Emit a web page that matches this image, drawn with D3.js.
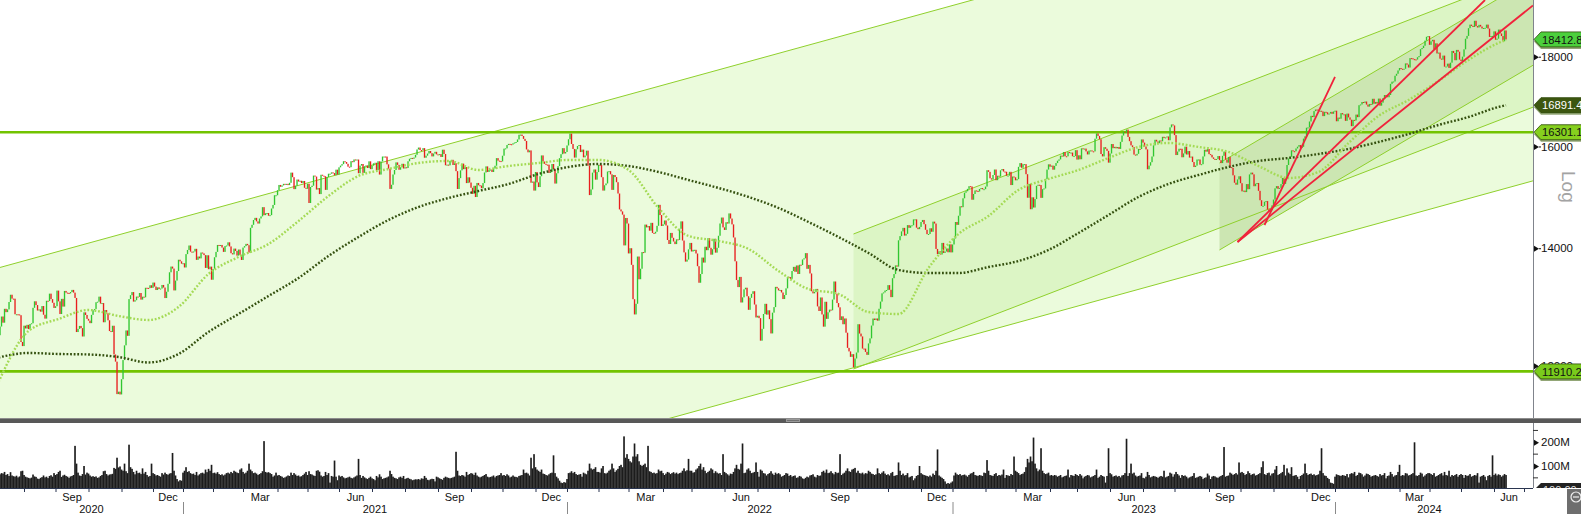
<!DOCTYPE html>
<html>
<head>
<meta charset="utf-8">
<script src="https://cdn.jsdelivr.net/npm/d3@7/dist/d3.min.js"></script>
<style>
html,body{margin:0;padding:0;background:#fff;}
svg{display:block;font-family:"Liberation Sans",Arial,Helvetica,sans-serif;}
</style>
</head>
<body>
<svg id="chart" width="1581" height="514"></svg>
<script>
// ================= DATA =================
const years = [2020, 2021, 2022, 2023, 2024];
const firstMonth = [6, 0, 0, 0, 0];
const monthNames = ["Jan","Feb","Mar","Apr","May","Jun","Jul","Aug","Sep","Oct","Nov","Dec"];
const labelledMonths = ["Mar","Jun","Sep","Dec"];
const lastMonthTradingDays = 20;
const firstOpen = 12495;

// daily closes, one array per month
const closes2020 = [
 [12490,12633,12800,12697,12930,12874,12920,13046,13171,13104,13103,12838,12838,12835,12822,12379,12313],
 [12647,12601,12661,12591,12675,12687,12947,13058,12994,12901,12920,12882,12977,12830,12765,13067,13062,13190,13096,13033,12945],
 [12974,13243,13057,12842,13100,12968,13237,13208,13202,13194,13218,13255,13208,13116,12542,12594,12643,12606,12469,12870,12826,12761],
 [12731,12689,12828,12906,12928,13042,13051,13138,13019,13028,12704,12909,12854,12737,12558,12543,12646,12178,12064,11561,11598,11556],
 [11789,12089,12325,12568,12480,13096,13163,13217,13053,13077,13139,13134,13201,13087,13137,13127,13292,13290,13286,13336,13291],
 [13383,13313,13253,13299,13271,13278,13341,13296,13114,13223,13362,13565,13667,13631,13246,13418,13587,13790,13761,13719]
];
const closes2021 = [
 [13727,13651,13892,13968,14050,13937,13925,13940,13989,13788,13848,13815,13921,13906,13874,13643,13871,13620,13666,13433],
 [13622,13835,13933,14060,14057,14060,14012,13933,14040,14050,14109,14033,13909,13887,13993,13950,13865,13976,13879,13786],
 [14012,14039,14080,14056,13921,14380,14437,14528,14569,14502,14461,14557,14597,14775,14621,14657,14662,14610,14621,14749,14818,15008,15008],
 [15107,15212,15176,15203,15234,15215,15234,15209,15255,15460,15368,15129,15196,15320,15280,15296,15249,15292,15155,15136],
 [15236,14856,15171,15197,15400,15380,15120,15150,15031,15417,15397,15386,15114,15370,15438,15438,15465,15451,15407,15520,15421],
 [15568,15603,15633,15693,15677,15640,15581,15571,15693,15674,15729,15710,15728,15448,15603,15636,15456,15589,15607,15554,15691,15531],
 [15603,15650,15661,15511,15692,15421,15688,15790,15790,15789,15629,15540,15133,15216,15422,15514,15669,15618,15519,15570,15640,15544],
 [15569,15555,15692,15744,15761,15745,15770,15826,15937,15977,15925,15921,15965,15765,15808,15852,15905,15860,15793,15852,15888,15835],
 [15824,15840,15781,15932,15843,15610,15623,15609,15701,15722,15616,15652,15490,15132,15349,15506,15644,15531,15573,15249,15365,15260],
 [15156,15036,15195,14973,15252,15206,15199,15147,15250,15463,15587,15474,15516,15522,15473,15543,15600,15757,15705,15696,15689],
 [15807,15954,15960,16030,16054,16047,16040,16067,16083,16094,16148,16248,16251,16221,16160,16116,15937,15878,15917,15257,15280,15100],
 [15473,15263,15170,15387,15813,15687,15639,15623,15622,15453,15476,15636,15532,15240,15447,15593,15756,15838,15964,15853,15885]
];
const closes2022 = [
 [16021,16152,16271,16052,15948,15768,15942,16010,16031,15883,15934,15773,15810,15912,15603,15011,15123,15460,15524,15318,15471],
 [15619,15613,15368,15100,15206,15242,15482,15490,15425,15114,15412,15370,15267,15042,14731,14693,14631,14052,14567,14461],
 [13905,14000,13698,13094,12835,13016,13848,13442,13628,13929,13918,14441,14388,14413,14326,14474,14284,14273,14306,14418,14820,14623,14415],
 [14446,14519,14424,14152,14078,14284,14193,14124,14076,14164,14153,14362,14502,14142,13924,13756,13793,13979,14098],
 [13940,13970,13971,13903,13674,13380,13534,13829,13739,14027,13964,14186,14008,13882,13982,14175,13919,14008,14231,14462,14575,14388],
 [14340,14485,14461,14654,14556,14445,14199,13762,13427,13304,13483,13038,13126,13265,13293,13145,12913,13118,13186,13232,13003,12784],
 [12813,12773,12401,12595,12843,13015,12832,12905,12756,12519,12865,12959,13308,13282,13246,13254,13210,13097,13166,13282,13484],
 [13479,13449,13587,13662,13574,13687,13535,13700,13694,13795,13816,13910,13627,13697,13544,13231,13195,13220,13272,12971,12893,13124,12835],
 [12631,13050,12761,12871,12916,12905,13088,13402,13189,13028,12956,12741,12803,12671,12767,12531,12284,12227,12140,12183,11976,12114],
 [12209,12671,12517,12470,12273,12272,12219,12172,12356,12438,12649,12766,12741,12767,12731,12931,13053,13195,13211,13243,13253],
 [13338,13257,13130,13460,13533,13688,13666,14146,14224,14313,14379,14234,14267,14431,14380,14422,14428,14540,14541,14383,14355,14397],
 [14490,14529,14448,14343,14261,14264,14371,14306,14497,14461,13987,13893,13942,13885,14098,13914,13940,13995,13926,14071,13924]
];
const closes2023 = [
 [14069,14181,14490,14436,14610,14792,14775,14948,15058,15087,15134,15187,15181,14920,15033,15103,15093,15082,15132,15150,15126,15128],
 [15180,15509,15476,15345,15320,15412,15523,15307,15397,15380,15507,15533,15482,15478,15397,15400,15476,15210,15381,15365],
 [15305,15328,15578,15654,15559,15632,15633,15428,14959,15233,14735,14967,14768,14933,15195,15216,15210,14957,15128,15142,15329,15522,15629],
 [15581,15603,15520,15598,15655,15703,15730,15808,15790,15883,15796,15795,15882,15863,15872,15796,15800,15922],
 [15727,15815,15734,15961,15952,15955,15897,15834,15914,15917,15898,15897,16164,16275,16223,16152,15842,15793,15984,15952,15908,15664],
 [15853,16051,15964,15992,15961,15989,15949,16097,16231,16311,16290,16358,16201,16111,16023,15988,15830,15813,15846,15949,15946,16148],
 [16081,15999,15938,15528,15603,15673,15791,16023,16141,16105,16068,16126,16109,16204,16177,16191,16211,16131,16406,16469,16447],
 [16240,15821,15893,15952,15951,15775,15854,15996,15832,15904,15768,15789,15676,15574,15603,15728,15729,15622,15632,15792,15931,15892,15947],
 [15840,15825,15772,15741,15719,15740,15800,15715,15655,15805,15893,15727,15664,15782,15572,15557,15405,15256,15217,15323,15386],
 [15247,15085,15099,15070,15229,15128,15424,15460,15425,15187,15237,15251,15095,14910,14798,14800,14880,14893,14731,14687,14717,14810],
 [14923,15144,15189,15136,15153,15229,15353,15234,15345,15615,15749,15786,15919,15901,15900,15958,15995,16029,15967,15993,16166,16215],
 [16398,16405,16533,16656,16629,16759,16794,16791,16766,16767,16751,16650,16744,16733,16688,16706,16742,16701,16752]
];
const closes2024 = [
 [16769,16538,16617,16594,16716,16688,16689,16547,16705,16622,16572,16432,16568,16555,16683,16628,16890,16907,16961,16942,16972,16904],
 [16859,16918,16904,17033,16922,16963,16927,17037,16880,16946,17047,17117,17092,17068,17118,17370,17419,17424,17556,17601,17678],
 [17735,17716,17698,17717,17842,17815,17746,17966,17961,17942,17936,17933,17987,18015,18179,18206,18261,18384,18477,18492],
 [18283,18367,18403,18175,18318,18077,18097,17954,17930,18026,17766,17770,17837,17737,17860,18137,18088,17917,18161,18118,17932],
 [17897,18001,18175,18430,18498,18686,18773,18742,18716,18869,18738,18704,18768,18726,18680,18691,18694,18774,18677,18473,18496,18498],
 [18608,18405,18431,18652,18557,18494,18369,18630,18412.8]
];

// daily volume in millions, one array per month
const vols2020 = [
 [72,65,70,68,75,62,66,58,74,60,57,55,59,52,56,78,80],
 [62,55,52,50,48,51,64,56,54,47,45,50,53,60,52,55,49,58,61,55,70],
 [62,66,75,80,54,60,63,58,55,50,56,58,62,185,110,72,60,58,66,100,64,72],
 [68,60,55,57,54,56,50,52,58,62,78,80,66,60,64,65,67,92,88,135,94,98],
 [85,80,110,78,70,190,95,88,75,65,80,70,72,66,90,68,75,62,55,58,110],
 [70,66,60,62,58,55,70,64,72,66,63,68,70,155,80,60,45,35,40,38]
];
const vols2021 = [
 [72,80,95,75,78,70,66,68,62,75,60,65,70,72,68,85,74,88,80,105],
 [70,72,68,74,66,62,65,60,64,70,72,68,75,70,80,76,72,70,85,90],
 [75,68,72,80,110,85,78,70,72,68,62,66,70,78,205,75,72,74,70,66,55,60,72],
 [60,62,58,55,50,52,56,60,58,72,62,70,64,58,60,55,57,62,68,75],
 [62,78,66,64,60,58,80,82,76,60,55,58,75,62,70,30,58,55,123,55,40],
 [60,55,58,52,48,50,52,55,50,48,52,56,60,130,62,50,58,52,48,45,50,55],
 [48,45,40,58,52,65,55,45,48,50,52,56,80,66,55,50,48,45,52,55,50,58],
 [45,48,50,46,44,40,42,44,43,45,42,48,46,58,50,42,40,44,46,45,35,55],
 [52,48,45,42,50,55,52,50,48,50,52,55,160,80,60,58,62,60,55,75,62,66],
 [70,68,62,72,60,55,52,55,58,62,66,55,52,54,56,60,52,58,60,62,70],
 [60,62,58,65,60,52,55,60,55,54,52,58,60,62,85,70,72,68,60,135,90,150],
 [95,85,80,75,85,68,66,62,60,65,70,72,145,70,55,48,38,30,28,32,30]
];
const vols2022 = [
 [45,70,72,78,70,75,66,62,64,66,55,72,68,65,80,110,90,85,88,95,75],
 [75,72,90,100,70,68,72,80,85,110,90,75,82,88,100,105,95,225,135,150],
 [130,120,115,140,195,140,150,120,105,100,105,110,95,185,78,75,70,72,68,70,85,78,80],
 [70,62,68,75,72,66,70,74,68,72,66,70,72,80,90,78,82,130,80],
 [80,72,74,85,90,100,110,85,95,80,70,75,80,90,85,70,78,72,68,70,62,150],
 [75,70,65,60,68,66,75,90,105,88,85,110,195,70,72,85,90,80,70,72,75,115],
 [75,55,85,80,70,68,60,66,70,78,68,62,72,66,70,65,55,58,62,70,68],
 [58,62,55,58,60,50,52,58,55,48,45,50,55,52,60,62,65,55,52,62,58,60,75],
 [80,72,85,70,72,78,70,65,75,70,72,150,62,68,72,80,90,78,75,85,88,92],
 [72,80,70,68,72,65,70,68,80,75,68,66,62,65,90,70,66,72,78,68,62],
 [65,60,70,75,58,60,62,115,80,62,68,60,62,70,52,55,58,40,48,58,62,100],
 [70,65,62,60,58,55,60,55,68,62,80,170,60,55,50,45,35,25,28,25,30]
];
const vols2023 = [
 [35,60,72,65,62,66,60,62,64,60,55,62,68,70,75,62,60,58,62,60,58,72],
 [70,125,80,62,60,58,66,70,58,62,60,64,85,50,62,60,58,66,62,140],
 [80,75,70,62,66,68,75,95,130,115,140,120,220,110,90,78,85,175,80,70,66,68,72],
 [60,62,58,62,60,55,58,62,52,55,58,60,85,52,62,60,58,66],
 [62,58,66,60,48,55,58,62,60,52,55,58,62,85,50,55,62,58,55,30,58,175],
 [70,65,55,58,60,55,58,52,60,62,70,215,58,70,110,68,72,60,55,58,60,70],
 [50,48,55,75,62,52,55,58,56,54,50,55,58,55,80,52,55,58,72,68,55],
 [65,75,66,60,50,62,58,60,55,48,52,55,58,70,50,52,55,58,55,45,50,52,68],
 [60,45,55,58,56,52,50,55,58,62,180,55,58,60,72,68,62,66,70,64,115],
 [72,75,70,62,66,78,70,62,66,68,60,62,66,70,95,120,66,62,70,72,60,68],
 [70,85,100,62,66,70,75,105,60,90,72,66,95,58,60,62,55,45,58,62,68,110],
 [70,62,66,68,62,65,60,62,65,80,175,70,60,58,50,45,30,28,25]
];
const vols2024 = [
 [55,65,62,60,58,62,60,58,66,52,66,70,68,75,58,62,72,70,65,55,60,68],
 [66,62,55,58,60,62,58,55,66,60,62,70,48,58,60,75,66,55,60,62,75],
 [105,58,62,60,70,68,60,62,66,70,200,60,58,62,72,68,55,60,66,70],
 [70,66,62,70,55,58,62,66,70,60,75,62,60,80,55,62,58,62,66,55,62],
 [66,62,50,62,58,60,66,55,58,62,60,70,30,55,58,62,55,40,58,62,55,145],
 [62,68,60,65,62,55,60,66,62]
];

// moving averages (trading-day index -> level)
const maIndex = [0,20,40,60,80,100,120,140,160,180,200,220,240,260,280,300,320,340,360,380,400,420,440,460,480,500,520,540,560,580,600,620,640,660,680,700,720,740,760,780,800,820,840,860,880,900,920,940,960,980,1000,1005];
const ma50 = [11746,12559,12758,12910,12809,12742,12961,13535,13840,14078,14509,14993,15392,15534,15657,15698,15514,15595,15657,15719,15719,15514,14759,14227,14134,13986,13588,13271,13184,12876,12842,13642,14264,14605,15112,15332,15514,15760,15989,16073,15989,15885,15595,15352,15473,16073,16653,17006,17436,17923,18327,18400];
const ma200 = [12130,12202,12186,12178,12138,12051,12186,12543,12842,13149,13464,13858,14208,14529,14778,14954,15092,15231,15432,15575,15636,15595,15473,15311,15152,14974,14759,14490,14208,13913,13606,13552,13552,13659,13767,13968,14283,14624,14974,15231,15412,15575,15698,15760,15843,15947,16094,16264,16458,16631,16851,16891];

// axis ticks
const priceTicks = [12000, 14000, 16000, 18000];
const volTicks = [100, 200];
const volMinorTicks = [50, 150, 250];

// horizontal levels and right-hand value tags
const levels = [16301.17, 11910.27];
const tagValues = [11910.27, 16301.17, 16891.40, 18412.80];

// trend channels / trend lines: [[tradingDayIndex, price], [tradingDayIndex, price]]
const outerUpper = [[1, 13651], [1023, 23737]];
const outerLower = [[1, 8795], [1023, 15294]];
const midUpper   = [[570, 14264], [1023, 20111]];
const midLower   = [[570, 11948], [1023, 16847]];
const innerUpper = [[814, 15657], [1023, 19951]];
const innerLower = [[814, 13968], [1023, 17799]];
const redLines = [
  [[844, 14433], [891, 17528]],
  [[826, 14115], [991, 19390]],
  [[826, 14115], [1023, 19254]]
];

// ================= BUILD =================
const closeYears = [closes2020, closes2021, closes2022, closes2023, closes2024];
const volYears = [vols2020, vols2021, vols2022, vols2023, vols2024];
const bars = [], monthStarts = [], yearStarts = [];
let idx = 0, prevClose = firstOpen;
closeYears.forEach((yr, yi) => {
  yearStarts.push({year: years[yi], i: idx});
  yr.forEach((mon, mi) => {
    monthStarts.push({year: years[yi], month: firstMonth[yi] + mi, i: idx, n: mon.length});
    mon.forEach((c, k) => {
      const v = (volYears[yi][mi] && volYears[yi][mi][k] != null) ? volYears[yi][mi][k] : 0;
      bars.push({i: idx, open: prevClose, close: c, vol: v});
      prevClose = c; idx++;
    });
  });
});
const lastMonth = monthStarts[monthStarts.length - 1];
const axisEndIndex = lastMonth.i + lastMonthTradingDays;

// ================= LAYOUT =================
const W = 1581, H = 514;
const AX = 1533;            // right axis x
const PB = 418;             // price panel bottom
const VB = 488;             // volume baseline / x axis
const svg = d3.select("#chart");

const x = d3.scaleLinear()
  .domain([yearStarts[1].i, yearStarts[4].i])
  .range([183, 1335]);
const y = d3.scaleLog().domain([12000, 18000]).range([365.7, 56.7]);
const vy = d3.scaleLinear().domain([0, 200]).range([489.7, 442.3]);

svg.append("rect").attr("width", W).attr("height", H).attr("fill", "#fff");

const defs = svg.append("defs");
defs.append("clipPath").attr("id", "pclip").append("rect")
  .attr("x", 0).attr("y", 0).attr("width", AX).attr("height", PB);
defs.append("clipPath").attr("id", "vclip").append("rect")
  .attr("x", 0).attr("y", 424).attr("width", AX).attr("height", VB - 424);
defs.append("clipPath").attr("id", "tclip").append("rect")
  .attr("x", AX).attr("y", 0).attr("width", W - AX).attr("height", PB);
defs.append("clipPath").attr("id", "vtclip").append("rect")
  .attr("x", AX).attr("y", 478).attr("width", W - AX).attr("height", 10);

const P = svg.append("g").attr("clip-path", "url(#pclip)");

// ---- channels ----
function pix(seg) { return seg.map(([i, p]) => [x(i), y(p)]); }
function yAt(seg, px) {
  const [[x0, y0], [x1, y1]] = pix(seg);
  return y0 + (y1 - y0) * (px - x0) / (x1 - x0);
}
function band(up, lo) {
  const x0 = Math.max(0, x(up[0][0])), x1 = AX;
  return [[x0, yAt(up, x0)], [x1, yAt(up, x1)], [x1, yAt(lo, x1)], [x0, yAt(lo, x0)]];
}
const channels = [[outerUpper, outerLower], [midUpper, midLower], [innerUpper, innerLower]];
const channelFills = ["#ebfbdc", "#dcf5c5", "#cce6b2"];
channels.forEach((ch, k) => {
  P.append("path").attr("d", d3.line()(band(ch[0], ch[1])) + "Z").attr("fill", channelFills[k]);
});
channels.forEach(ch => {
  ch.forEach(seg => {
    const x0 = Math.max(0, x(seg[0][0]));
    P.append("line")
      .attr("x1", x0).attr("y1", yAt(seg, x0))
      .attr("x2", AX).attr("y2", yAt(seg, AX))
      .attr("stroke", "#8fd02c").attr("stroke-width", 1);
  });
});

// ---- horizontal levels ----
levels.forEach(v => {
  P.append("line").attr("x1", 0).attr("x2", AX).attr("y1", y(v)).attr("y2", y(v))
    .attr("stroke", "#72c300").attr("stroke-width", 2.6);
});

// ---- candles ----
P.append("g").selectAll("rect").data(bars).join("rect")
  .attr("x", d => x(d.i) - 0.65)
  .attr("width", 1.35)
  .attr("y", d => Math.min(y(d.open), y(d.close)))
  .attr("height", d => Math.max(1, Math.abs(y(d.open) - y(d.close))))
  .attr("fill", d => d.close >= d.open ? "#30c630" : "#e81e1e");

// ---- moving averages ----
const maLine = d3.line().x(d => x(d[0])).y(d => y(d[1])).curve(d3.curveMonotoneX);
P.append("path").attr("d", maLine(maIndex.map((i, k) => [i, ma200[k]])))
  .attr("fill", "none").attr("stroke", "#34500f").attr("stroke-width", 2.4)
  .attr("stroke-dasharray", "1.8,1.8");
P.append("path").attr("d", maLine(maIndex.map((i, k) => [i, ma50[k]])))
  .attr("fill", "none").attr("stroke", "#a4da55").attr("stroke-width", 2.4)
  .attr("stroke-dasharray", "1.8,1.8");

// ---- red trend lines ----
redLines.forEach(seg => {
  const [[x0, y0], [x1, y1]] = pix(seg);
  P.append("line").attr("x1", x0).attr("y1", y0).attr("x2", x1).attr("y2", y1)
    .attr("stroke", "#f0233b").attr("stroke-width", 1.8);
});

// ---- right price axis ----
svg.append("line").attr("x1", AX + 0.5).attr("x2", AX + 0.5).attr("y1", 0).attr("y2", VB)
  .attr("stroke", "#80848c").attr("stroke-width", 1);

const yAxis = d3.axisRight(y).tickValues(priceTicks).tickFormat(d3.format("d"))
  .tickSize(0).tickPadding(8);
const gy = svg.append("g").attr("transform", `translate(${AX},0)`).call(yAxis);
gy.select(".domain").remove();
gy.selectAll("text").attr("font-size", 11.5).attr("fill", "#111")
  .attr("font-family", '"Liberation Sans",Arial,sans-serif');
gy.selectAll(".tick").append("path").attr("d", "M1,-3L6,0L1,3Z").attr("fill", "#111");
gy.selectAll(".tick").append("line").attr("x1", 6).attr("x2", 8).attr("stroke", "#111");

// "Log"
svg.append("text").attr("transform", "translate(1562,171) rotate(90)")
  .attr("font-size", 19).attr("fill", "#a3a3a3").text("Log");

// ---- value tags ----
const tagFill = {"11910.27": "#7acb1c", "16301.17": "#86cf1e", "16891.4": "#3c560f", "18412.8": "#4ccf3c"};
const tagText = {"11910.27": "#111", "16301.17": "#111", "16891.4": "#fff", "18412.8": "#111"};
const T = svg.append("g").attr("clip-path", "url(#tclip)");
tagValues.forEach(v => {
  const cy = y(v);
  const shape = `M${AX + 1},${cy} L${AX + 8},${cy - 7.5} L${W + 5},${cy - 7.5} L${W + 5},${cy + 7.5} L${AX + 8},${cy + 7.5} Z`;
  T.append("path").attr("d", shape).attr("transform", "translate(0,2)").attr("fill", "#4a6a1a").attr("opacity", 0.6);
  T.append("path").attr("d", shape).attr("fill", tagFill[String(v)]).attr("stroke", "#2d4a08").attr("stroke-width", 0.8);
  T.append("text").attr("x", AX + 9).attr("y", cy + 4.2).attr("font-size", 11.2)
    .attr("fill", tagText[String(v)]).text(d3.format(".2f")(v));
});

// ---- separator bar ----
svg.append("rect").attr("x", 0).attr("y", PB).attr("width", W).attr("height", 5).attr("fill", "#585858");
svg.append("line").attr("x1", 0).attr("x2", W).attr("y1", PB + 0.5).attr("y2", PB + 0.5).attr("stroke", "#8c8c8c");
svg.append("rect").attr("x", 786).attr("y", PB + 1).attr("width", 14).attr("height", 3).attr("fill", "#9a9a9a");
svg.append("line").attr("x1", 787).attr("x2", 799).attr("y1", PB + 2.5).attr("y2", PB + 2.5).attr("stroke", "#555").attr("stroke-width", 0.6);

// ---- volume ----
const V = svg.append("g").attr("clip-path", "url(#vclip)");
V.selectAll("rect").data(bars).join("rect")
  .attr("x", d => x(d.i) - 0.8).attr("width", 1.65)
  .attr("y", d => vy(d.vol)).attr("height", d => Math.max(0, VB - vy(d.vol)))
  .attr("fill", "#1c1c1c");

const vAxis = d3.axisRight(vy).tickValues(volTicks).tickFormat(d => d + "M").tickSize(0).tickPadding(8);
const gv = svg.append("g").attr("transform", `translate(${AX},0)`).call(vAxis);
gv.select(".domain").remove();
gv.selectAll("text").attr("font-size", 11.5).attr("fill", "#111")
  .attr("font-family", '"Liberation Sans",Arial,sans-serif');
gv.selectAll(".tick").append("path").attr("d", "M1,-3L6,0L1,3Z").attr("fill", "#111");
svg.selectAll(".vminor").data(volMinorTicks).join("line").attr("class", "vminor")
  .attr("x1", AX).attr("x2", AX + 5).attr("y1", d => vy(d)).attr("y2", d => vy(d))
  .attr("stroke", "#333");

// volume tag (partly hidden) and corner button
const VT = svg.append("g").attr("clip-path", "url(#vtclip)");
VT.append("path").attr("d", `M${AX + 1},490 L${AX + 8},483 L${W},483 L${W},497 L${AX + 8},497 Z`).attr("fill", "#222");
VT.append("text").attr("x", AX + 10).attr("y", 494).attr("font-size", 11).attr("fill", "#ddd").text("100.00");
svg.append("rect").attr("x", 1567).attr("y", 489).attr("width", 14).attr("height", 25).attr("fill", "#6e6e6e");
svg.append("circle").attr("cx", 1576).attr("cy", 497).attr("r", 5).attr("fill", "none").attr("stroke", "#eee").attr("stroke-width", 1.2);
svg.append("line").attr("x1", 1573).attr("x2", 1579).attr("y1", 497).attr("y2", 497).attr("stroke", "#eee").attr("stroke-width", 1.2);

// ---- bottom time axis ----
const tickIdx = monthStarts.slice(1).map(m => m.i).concat([axisEndIndex]);
const xAxis = d3.axisBottom(x).tickValues(tickIdx).tickFormat("").tickSizeInner(4).tickSizeOuter(0);
const gx = svg.append("g").attr("transform", `translate(0,${VB})`).call(xAxis);
gx.select(".domain").attr("d", `M0,0.5H${AX}`).attr("stroke", "#2a3550");
gx.selectAll(".tick line").attr("stroke", "#2a3550");

monthStarts.forEach((m, k) => {
  const name = monthNames[m.month];
  if (!labelledMonths.includes(name)) return;
  const n = (k === monthStarts.length - 1) ? lastMonthTradingDays : m.n;
  svg.append("text").attr("x", x(m.i + n / 2)).attr("y", 501)
    .attr("text-anchor", "middle").attr("font-size", 11).attr("fill", "#111").text(name);
});

yearStarts.forEach((ys, k) => {
  const start = k === 0 ? 0 : x(ys.i);
  const end = k < yearStarts.length - 1 ? x(yearStarts[k + 1].i) : x(axisEndIndex);
  svg.append("text").attr("x", (start + end) / 2).attr("y", 513)
    .attr("text-anchor", "middle").attr("font-size", 11).attr("fill", "#111").text(ys.year);
  if (k > 0) {
    svg.append("line").attr("x1", start + 0.5).attr("x2", start + 0.5).attr("y1", 502).attr("y2", 514)
      .attr("stroke", "#8a8a8a");
  }
});
</script>
</body>
</html>
